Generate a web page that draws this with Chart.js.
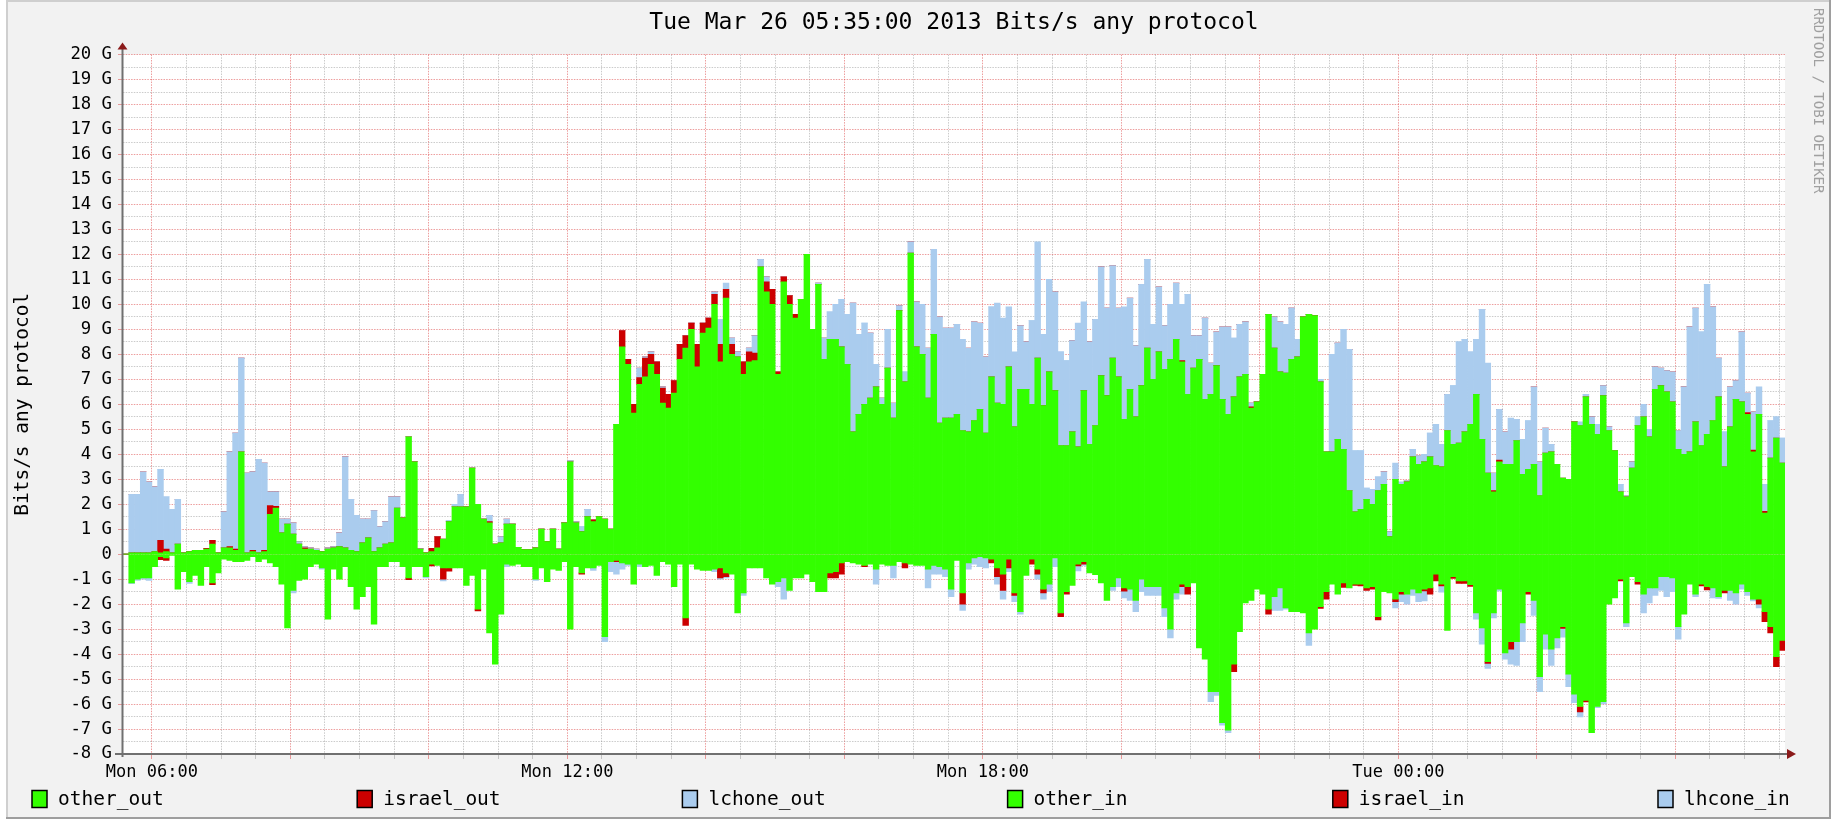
<!DOCTYPE html>
<html>
<head>
<meta charset="utf-8">
<title>Bits/s any protocol</title>
<script src="https://cdn.jsdelivr.net/npm/chart.js@4"></script>
<style>
  html, body { margin: 0; padding: 0; background: #fff; }
  #chart { display: block; }
</style>
</head>
<body>
<canvas id="chart" width="1837" height="819"></canvas>
<script>
const MONO = '"DejaVu Sans Mono", "Liberation Mono", monospace';
const STEP_MIN = 5; // one sample every 5 minutes, starting Mon 05:35

const titleText = 'Tue Mar 26 05:35:00 2013 Bits/s any protocol';
const xTickMinutes = [25, 385, 745, 1105];
const xTickLabels = ['Mon 06:00', 'Mon 12:00', 'Mon 18:00', 'Tue 00:00'];
const seriesLabels = ['other_out', 'israel_out', 'lchone_out', 'other_in', 'israel_in', 'lhcone_in'];
const seriesColors = ['#33ff00', '#cc0000', '#aaccee', '#33ff00', '#cc0000', '#aaccee'];

// values in Gbit/s, 24 samples per row (2 hours)
const otherOut = [
  0,0.05,0.05,0.05,0.05,0.1,0.05,0.1,0.05,0.4,0.05,0.1,0.15,0.15,0.2,0.4,0.05,0.25,0.25,0.15,4.1,0.05,0.1,0.05,
  0.1,1.6,1.85,0.85,1.2,0.8,0.4,0.2,0.2,0.15,0.1,0.2,0.25,0.3,0.25,0.15,0.1,0.45,0.65,0.1,0.25,0.4,0.45,1.85,
  1.45,4.7,3.7,0.2,0.05,0.1,0.25,0.6,1.3,1.9,1.9,1.9,3.45,2.0,1.4,1.25,0.4,0.45,1.2,1.2,0.27,0.18,0.18,0.25,
  1.0,0.5,1.0,0.2,1.25,3.7,1.25,0.9,1.5,1.3,1.5,1.4,1.0,5.2,8.3,7.6,5.65,6.8,7.1,7.6,7.2,6.05,5.85,6.45,
  7.8,8.25,9.0,7.5,8.85,9.05,10.0,7.7,10.25,8.0,7.9,7.2,7.7,7.75,11.5,10.5,10.0,7.2,10.9,10.0,9.45,10.2,12.0,9.0,
  10.8,7.8,8.6,8.6,8.3,7.6,4.9,5.6,6.0,6.25,6.7,6.0,7.45,5.45,9.75,6.9,12.05,8.3,8.0,6.25,8.8,5.25,5.45,5.45,
  5.6,4.95,4.9,5.35,5.8,4.85,7.1,6.05,6.0,7.5,5.1,6.6,6.6,6.0,7.85,5.95,7.3,6.55,4.35,4.35,4.9,4.3,6.55,4.4,
  5.15,7.15,6.35,7.85,7.1,5.4,6.6,5.5,6.75,8.25,7.0,8.1,7.4,7.8,8.6,7.7,6.4,7.45,7.8,6.2,6.4,7.55,6.2,5.6,
  6.3,7.1,7.2,5.85,6.1,7.2,9.6,8.25,7.3,7.25,7.8,7.9,9.5,9.6,9.55,6.9,4.1,4.1,4.6,4.2,2.55,1.7,1.8,2.2,
  2.0,2.55,2.8,0.7,3.0,2.8,2.9,3.9,3.6,3.7,3.9,3.55,3.5,4.95,4.4,4.45,4.9,5.2,6.4,4.6,3.25,2.5,3.7,3.6,
  3.6,4.55,3.2,3.4,3.6,2.35,4.05,4.1,3.6,3.05,3.0,5.3,5.15,6.3,5.2,4.8,6.35,4.95,4.15,2.5,2.3,3.45,5.15,5.5,
  4.7,6.6,6.75,6.5,6.1,4.2,4.0,4.1,5.3,4.35,4.8,5.35,6.3,3.5,5.1,6.2,6.1,5.6,4.1,5.6,1.65,3.85,4.65,3.65
];
const israelOut = [
  0,0,0,0,0,0,0.5,0.1,0,0,0,0,0,0,0.03,0.15,0,0,0.05,0.05,0,0,0.05,0,
  0.05,0.35,0.07,0,0,0,0,0.05,0,0,0,0,0,0,0,0,0,0,0,0,0,0,0,0,
  0,0,0,0,0,0.13,0.45,0,0,0,0,0,0,0,0,0.05,0,0,0,0,0,0,0,0,
  0,0,0,0,0,0,0,0,0,0.07,0,0,0,0,0.65,0.2,0.35,0.27,0.75,0.4,0.5,0.6,0.55,0.5,
  0.6,0.5,0.25,0.9,0.4,0.4,0.4,0.7,0.35,0.4,0,0.5,0.4,0.3,0,0.4,0.6,0.1,0.2,0.35,0.15,0,0,0,
  0,0,0,0,0,0,0,0,0,0,0,0,0,0,0,0,0,0,0,0,0,0,0,0,
  0,0,0,0,0,0,0,0,0,0,0,0,0,0,0,0,0,0,0,0,0,0,0,0,
  0,0,0,0,0,0,0,0,0,0,0,0,0,0,0,0.05,0,0,0,0,0,0,0,0,
  0,0,0,0.05,0,0,0,0,0,0,0,0,0,0,0,0,0,0,0,0,0,0,0,0,
  0,0,0,0,0,0,0,0,0,0,0,0,0,0,0,0,0,0,0,0,0,0.05,0.07,0,
  0,0,0,0,0,0,0,0,0,0,0,0,0,0,0,0,0,0,0,0,0,0,0,0,
  0,0,0,0,0,0,0,0,0,0,0,0,0,0,0,0,0,0.07,0.07,0,0.07,0,0,0
];
const lchoneOut = [
  0,2.35,2.35,3.25,2.85,2.6,2.85,2.1,1.75,1.8,0,0,0,0,0,0,0,1.45,3.8,4.65,3.75,3.2,3.15,3.75,
  3.5,0.55,0.58,0.55,0.2,0.45,0.1,0.05,0.05,0.05,0,0.05,0.05,0.55,3.65,2.05,1.45,0.95,0.75,1.65,0.85,0.9,1.85,0.45,
  0,0,0,0.02,0,0,0,0,0.05,0.1,0.5,0,0,0,0,0.25,0,0.25,0.2,0,0,0,0,0,
  0,0,0,0,0,0.05,0.05,0.2,0.3,0,0,0,0,0,0,0,0,0.38,0.05,0.1,0,0.05,0,0,
  0,0,0,0,0,0,0.1,1.0,0.25,0.25,0.2,0,0.15,0.7,0.3,0.2,0,0,0,0,0,0,0,0,
  0.05,0.85,1.1,1.4,1.9,2.0,5.15,3.2,3.25,2.6,0.9,0.25,1.55,0.6,0.2,0.4,0.45,1.8,2.0,2.0,3.4,4.25,3.6,3.6,
  3.6,3.65,3.35,3.95,3.45,3.05,2.8,4.0,3.45,2.4,3.0,2.55,1.9,3.35,4.65,2.85,3.7,3.95,3.75,3.4,3.65,4.95,3.55,4.1,
  4.25,4.35,3.5,3.7,2.75,4.5,3.65,2.85,4.05,3.55,2.2,2.6,1.75,2.2,2.25,2.25,4.0,1.3,0.95,3.25,1.25,1.35,2.9,3.5,
  2.35,2.1,2.1,0.15,0,0,0,1.25,2.0,1.95,2.05,0.7,0,0,0,0.1,0,3.9,3.85,4.8,5.65,2.45,2.35,0.45,
  0.6,0.55,0.5,0.2,0.65,0.1,0.05,0.3,0.35,0.3,0.95,1.65,0.9,1.45,2.35,4.05,3.7,2.9,2.2,5.2,4.4,0.7,2.03,1.3,
  1.85,0.85,1.4,1.95,3.1,1.35,1.0,0.3,0,0,0,0,0.15,0.1,0.3,0.4,0.4,0.15,0,0.3,0.05,0.25,0.35,0.5,
  0.3,0.9,0.7,0.85,1.2,0.75,2.7,5.0,4.55,4.55,6.0,4.55,1.55,1.4,1.6,0.75,2.8,0.78,1.53,1.1,1.08,1.5,0.85,1.0
];
const otherIn = [
  0,-1.15,-1.0,-0.95,-0.95,-0.5,-0.1,-0.15,-0.05,-1.4,-0.7,-1.1,-0.85,-1.25,-0.5,-1.15,-0.75,-0.2,-0.25,-0.3,-0.3,-0.25,-0.1,-0.3,
  -0.2,-0.35,-0.5,-1.2,-2.95,-1.45,-1.05,-1.0,-0.5,-0.4,-0.55,-2.6,-0.6,-1.0,-0.5,-1.3,-2.2,-1.7,-1.3,-2.8,-0.5,-0.5,-0.3,-0.3,
  -0.5,-0.95,-0.5,-0.5,-0.9,-0.4,-0.45,-0.55,-0.55,-0.55,-0.55,-1.25,-0.85,-2.2,-0.6,-3.15,-4.4,-2.4,-0.4,-0.45,-0.4,-0.5,-0.5,-1.0,
  -0.55,-1.1,-0.6,-0.65,-0.3,-3.0,-0.5,-0.75,-0.55,-0.55,-0.45,-3.3,-0.3,-0.25,-0.35,-0.4,-1.2,-0.4,-0.5,-0.45,-0.85,-0.3,-0.4,-1.3,
  -0.4,-2.55,-0.4,-0.6,-0.65,-0.65,-0.6,-0.55,-0.75,-0.8,-2.35,-1.55,-0.55,-0.55,-0.55,-0.95,-1.2,-1.1,-0.95,-1.45,-0.95,-0.95,-0.8,-1.1,
  -1.5,-1.5,-0.75,-0.7,-0.35,-0.3,-0.35,-0.4,-0.45,-0.4,-0.6,-0.4,-0.45,-0.45,-0.3,-0.35,-0.4,-0.45,-0.45,-0.6,-0.45,-0.5,-0.6,-1.4,
  -0.25,-1.55,-0.35,-0.15,-0.1,-0.15,-0.2,-0.55,-0.8,-0.2,-1.55,-2.3,-0.85,-0.2,-0.6,-1.4,-1.2,-0.15,-2.35,-1.5,-1.25,-0.4,-0.3,-0.75,
  -0.82,-1.15,-1.85,-1.3,-0.95,-1.35,-1.4,-1.85,-1.0,-1.3,-1.3,-1.3,-2.15,-3.0,-1.55,-1.2,-1.3,-1.15,-3.75,-4.2,-5.5,-5.5,-6.75,-7.05,
  -4.4,-3.1,-1.95,-1.85,-1.4,-1.6,-2.2,-1.7,-1.35,-2.15,-2.3,-2.3,-2.35,-3.15,-3.0,-2.1,-1.5,-1.2,-1.6,-1.15,-1.35,-1.2,-1.2,-1.35,
  -1.3,-2.5,-1.5,-1.55,-1.8,-1.5,-1.6,-1.4,-1.55,-1.4,-1.35,-0.8,-1.2,-3.05,-0.9,-1.07,-1.07,-1.22,-2.35,-2.95,-4.3,-2.35,-1.4,-3.95,
  -3.5,-3.5,-2.75,-1.5,-1.85,-4.9,-3.2,-3.8,-3.35,-2.9,-4.8,-5.6,-6.1,-5.85,-7.15,-6.1,-5.9,-2.0,-1.75,-1.0,-2.75,-0.9,-1.1,-1.6,
  -1.35,-1.35,-0.9,-0.9,-0.95,-2.9,-2.4,-1.2,-1.6,-1.2,-1.3,-1.35,-1.7,-1.45,-1.45,-1.55,-1.2,-1.5,-1.8,-1.8,-2.3,-2.9,-4.1,-3.45
];
const israelIn = [
  0,0,0,0,0,0,-0.12,-0.1,0,0,0,0,0,0,0,-0.07,0,0,0,0,0,0,0,0,
  0,0,0,0,0,0,0,0,0,0,0,0,0,0,0,0,0,0,0,0,0,0,0,0,
  0,-0.07,0,0,0,-0.07,0,-0.45,-0.13,0,0,0,0,-0.07,0,0,0,0,0,0,0,0,0,0,
  0,0,0,0,0,0,0,-0.05,0,0,0,0,0,-0.05,0,0,0,0,0,0,0,0,0,0,
  0,-0.3,0,0,0,0,0,-0.4,-0.15,0,0,0,0,0,0,0,0,0,0,0,0,0,0,0,
  0,0,-0.2,-0.25,-0.45,0,0,0,-0.05,0,0,0,0,0,0,-0.2,0,0,0,0,0,0,0,0,
  0,-0.45,0,0,0,0,-0.15,-0.35,-0.65,-0.35,-0.1,0,0,-0.2,-0.2,-0.15,0,0,-0.15,-0.1,0,-0.07,-0.1,0,
  0,0,0,0,0,-0.13,0,0,0,0,0,0,0,0,0,-0.1,-0.3,0,0,0,0,0,0,0,
  -0.3,0,0,0,0,0,-0.2,0,0,0,0,0,0,0,0,-0.07,-0.3,0,0,-0.18,0,-0.05,-0.07,-0.1,
  -0.1,-0.13,0,0,-0.1,-0.1,0,0,0,-0.07,-0.25,-0.27,-0.07,0,-0.07,-0.1,-0.1,-0.07,0,0,-0.07,0,0,0,
  -0.3,0,0,-0.1,0,0,0,0,0,-0.07,0,0,-0.22,-0.07,0,0,0,0,0,-0.07,0,0,-0.1,0,
  0,0,0,0,0,0,0,0,0,-0.07,-0.13,0,0,-0.1,0,0,0,0,0,-0.2,-0.4,-0.25,-0.4,-0.4
];
const lhconeIn = [
  0,-0.03,-0.05,-0.05,-0.1,0,0,0,0,0,0,-0.07,0,0,0,0,0,0,0,0,0,0,0,0,
  0,0,0,0,0,-0.1,0,0,0,0,-0.05,0,0,0,0,0,0,0,0,0,0,0,0,0,
  0,0,0,0,-0.05,0,0,-0.07,0,0,0,0,0,0,0,0,0,0,-0.1,0,0,0,0,-0.05,
  0,0,0,0,0,0,0,0,0,-0.1,0,-0.2,-0.4,-0.5,-0.25,-0.05,0,-0.1,0,0,0,0,0,0,
  0,0,0,0,0,0,-0.1,-0.05,-0.05,0,0,-0.1,0,0,0,0,0,-0.2,-0.85,0,0,0,0,0,
  0,0,0,0,0,0,0,0,0,0,-0.6,0,0,-0.5,0,0,0,0,0,-0.75,-0.35,-0.3,-0.3,-0.3,
  0,-0.25,-0.25,-0.25,-0.4,-0.4,0,-0.3,-0.35,-0.15,-0.25,-0.1,0,0,-0.2,-0.25,-0.3,-0.35,0,0,0,-0.2,-0.05,0,
  0,0,0,-0.15,-0.35,-0.27,-0.45,-0.45,-0.5,-0.35,-0.35,-0.35,-0.35,-0.35,-0.25,-0.3,0,0,0,0,-0.4,-0.15,-0.1,-0.1,
  0,0,0,0,0,0,0,-0.55,-0.9,-0.05,0,0,0,-0.5,0,0,0,0,0,0,0,0,0,0,
  0,0,0,0,-0.25,-0.3,-0.4,-0.25,-0.35,-0.4,0,0,-0.25,0,0,0,0,0,-0.25,-0.65,-0.2,-0.2,-0.07,-0.25,
  -0.6,-0.95,-0.75,0,-0.6,-0.6,-0.6,-0.65,-0.4,-0.35,-0.5,-0.35,-0.2,0,0,-0.05,-0.1,0,0,0,-0.15,0,0,-0.75,
  -0.6,-0.3,-0.55,-0.8,-0.55,-0.5,0,0,-0.1,0,0,-0.4,-0.07,0,-0.4,-0.45,-0.2,-0.15,-0.07,-0.15,0,0,0,0
];

const series = [otherOut, israelOut, lchoneOut, otherIn, israelIn, lhconeIn];

// grid every 30 min (major every 2 h), y grid every 0.5 G (major every 1 G)
const gridMinutes = [];
for (let m = 25; m < 1440; m += 30) gridMinutes.push(m);
const yTickValues = [];
for (let v = -8; v <= 20; v += 0.5) yTickValues.push(v);

const MAJOR = 'rgba(222, 79, 79, 0.55)';
const MINOR = 'rgba(140, 140, 140, 0.45)';

const toPoints = arr => arr.map((v, i) => ({ x: i * STEP_MIN + STEP_MIN / 2, y: v }));

const rrdFrame = {
  id: 'rrdFrame',
  beforeDraw(chart) {
    const { ctx, chartArea: a, width, height } = chart;
    ctx.save();
    ctx.fillStyle = '#ffffff';
    ctx.fillRect(0, 0, width, height);
    ctx.fillStyle = '#f2f2f2';
    ctx.fillRect(6, 0, width - 12, height);
    ctx.fillStyle = '#cfcfcf';
    ctx.fillRect(6, 0, width - 12, 2);
    ctx.fillRect(6, 0, 2, height);
    ctx.fillStyle = '#9e9e9e';
    ctx.fillRect(width - 8, 0, 2, height);
    ctx.fillRect(6, height - 2, width - 12, 2);
    ctx.fillStyle = '#ffffff';
    ctx.fillRect(a.left, a.top, a.right - a.left, a.bottom - a.top);
    ctx.restore();
  },
  afterDraw(chart) {
    const { ctx, chartArea: a } = chart;
    ctx.save();
    // axes
    ctx.strokeStyle = '#707070';
    ctx.lineWidth = 2;
    ctx.beginPath();
    ctx.moveTo(a.left - 0.5, a.bottom + 3);
    ctx.lineTo(a.left - 0.5, a.top - 6);
    ctx.moveTo(a.left - 8, a.bottom);
    ctx.lineTo(a.right + 3, a.bottom);
    ctx.stroke();
    ctx.fillStyle = '#8b1a1a';
    ctx.beginPath();
    ctx.moveTo(a.left - 5.5, a.top - 5);
    ctx.lineTo(a.left + 4.5, a.top - 5);
    ctx.lineTo(a.left - 0.5, a.top - 12);
    ctx.closePath();
    ctx.fill();
    ctx.beginPath();
    ctx.moveTo(a.right + 2, a.bottom - 5);
    ctx.lineTo(a.right + 2, a.bottom + 5);
    ctx.lineTo(a.right + 11, a.bottom);
    ctx.closePath();
    ctx.fill();

    // legend
    ctx.font = '19.5px ' + MONO;
    ctx.textBaseline = 'middle';
    ctx.textAlign = 'left';
    chart.data.datasets.forEach((ds, i) => {
      const x = 32 + i * 325.2, y = 799;
      ctx.fillStyle = ds.backgroundColor;
      ctx.fillRect(x, y - 8.5, 15, 17);
      ctx.strokeStyle = '#000';
      ctx.lineWidth = 1.5;
      ctx.strokeRect(x, y - 8.5, 15, 17);
      ctx.fillStyle = '#000';
      ctx.fillText(ds.label, x + 26, y + 1);
    });

    // watermark
    ctx.font = '14px ' + MONO;
    ctx.fillStyle = '#a0a0a0';
    ctx.translate(1818, 8);
    ctx.rotate(Math.PI / 2);
    ctx.fillText('RRDTOOL / TOBI OETIKER', 0, 0);
    ctx.restore();
  }
};

new Chart(document.getElementById('chart'), {
  type: 'bar',
  data: {
    datasets: series.map((arr, i) => ({
      label: seriesLabels[i],
      data: toPoints(arr),
      backgroundColor: seriesColors[i],
      borderWidth: 0,
      barPercentage: 1,
      categoryPercentage: 1
    }))
  },
  options: {
    responsive: false,
    animation: false,
    events: [],
    devicePixelRatio: 1,
    layout: { padding: { top: 0, right: 52, bottom: 35, left: 0 } },
    plugins: {
      legend: { display: false },
      tooltip: { enabled: false },
      title: {
        display: true,
        text: titleText,
        color: '#000',
        fullSize: false,
        font: { family: MONO, size: 23, weight: 'normal' },
        padding: { top: 9, bottom: 18 }
      }
    },
    scales: {
      x: {
        type: 'linear',
        min: 0,
        max: 1440,
        stacked: true,
        offset: false,
        z: 1,
        afterBuildTicks: s => { s.ticks = gridMinutes.map(v => ({ value: v })); },
        afterFit: s => { s.height = 30; },
        ticks: {
          autoSkip: false,
          maxRotation: 0,
          minRotation: 0,
          padding: 3,
          color: '#000',
          font: { family: MONO, size: 17 },
          callback: v => {
            const i = xTickMinutes.indexOf(v);
            return i >= 0 ? xTickLabels[i] : '';
          }
        },
        grid: {
          offset: false,
          tickLength: 5,
          lineWidth: 1,
          color: c => (c.tick && (c.tick.value - 25) % 120 === 0 ? MAJOR : MINOR),
          tickColor: c => (c.tick && (c.tick.value - 25) % 120 === 0 ? MAJOR : MINOR)
        },
        border: { display: false, dash: [1.5, 1.2] }
      },
      y: {
        type: 'linear',
        min: -8,
        max: 20,
        stacked: true,
        z: 1,
        afterBuildTicks: s => { s.ticks = yTickValues.map(v => ({ value: v })); },
        afterFit: s => { s.width = 123; },
        title: {
          display: true,
          text: 'Bits/s any protocol',
          color: '#000',
          font: { family: MONO, size: 19.5, weight: 'normal' },
          padding: { top: 11, bottom: 0 }
        },
        ticks: {
          autoSkip: false,
          padding: 6,
          color: '#000',
          font: { family: MONO, size: 17.3 },
          callback: v => (Number.isInteger(v) ? (v === 0 ? '0' : v + ' G') : '')
        },
        grid: {
          tickLength: 5,
          lineWidth: 1,
          color: c => (c.tick && Number.isInteger(c.tick.value) ? MAJOR : MINOR),
          tickColor: c => (c.tick && Number.isInteger(c.tick.value) ? MAJOR : 'rgba(0,0,0,0)')
        },
        border: { display: false, dash: [1.5, 1.2] }
      }
    }
  },
  plugins: [rrdFrame]
});
</script>
</body>
</html>
